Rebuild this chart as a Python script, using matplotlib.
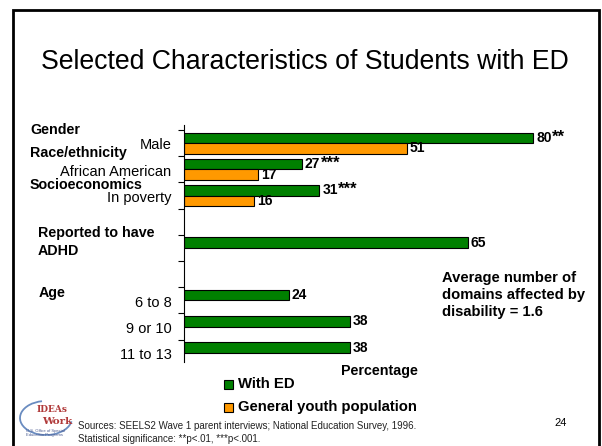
import numpy as np
import matplotlib.pyplot as plt
from matplotlib.patches import Rectangle, Arc

plt.rcParams['font.family'] = ['Liberation Sans', 'DejaVu Sans']

# rows from top to bottom; None marks an empty spacer row
rows = ["Male", "African American", "In poverty", None, "", None,
        "6 to 8", "9 or 10", "11 to 13"]
with_ed = [80, 27, 31, None, 65, None, 24, 38, 38]
general = [51, 17, 16, None, None, None, None, None, None]
stars = ["**", "***", "***", "", "", "", "", "", ""]

groups = ["Gender", "Race/ethnicity", "Socioeconomics",
          "Reported to have\nADHD", "Age"]

GREEN = "#008000"
ORANGE = "#FF9900"

W, H = 602, 446
fig = plt.figure(figsize=(W / 100, H / 100), dpi=100)


def fx(x):
    return x / W


def fy(y):
    return 1 - y / H


# slide frame
fig.patches.append(Rectangle((fx(13), fy(460)), fx(599) - fx(13), fy(10) - fy(460),
                             transform=fig.transFigure, fill=False,
                             edgecolor="black", linewidth=2))

fig.text(fx(305), fy(62), "Selected Characteristics of Students with ED",
         ha="center", va="center", fontsize=19.2)

ax = fig.add_axes([fx(184), fy(362), fx(577) - fx(184), fy(125) - fy(362)])
n = len(rows)
pos = np.arange(n)

for i in range(n):
    if with_ed[i] is not None:
        ax.barh(i - 0.2, with_ed[i], height=0.4, color=GREEN,
                edgecolor="black", linewidth=0.8)
        ax.text(with_ed[i] + 0.7, i - 0.2, str(with_ed[i]), ha="left",
                va="center", fontsize=10, fontweight="bold")
        if stars[i]:
            ax.annotate(stars[i], (with_ed[i] + 0.7, i - 0.2),
                        xytext=(11.2, 0.5), textcoords="offset points",
                        ha="left", va="center", fontsize=12, fontweight="bold")
    if general[i] is not None:
        ax.barh(i + 0.2, general[i], height=0.4, color=ORANGE,
                edgecolor="black", linewidth=0.8)
        ax.text(general[i] + 0.7, i + 0.2, str(general[i]), ha="left",
                va="center", fontsize=10, fontweight="bold")

ax.set_xlim(0, 90)
ax.set_ylim(n - 0.65, -0.69)
ax.set_yticks(pos - 0.5)
ax.set_yticklabels([])
ax.set_yticks(pos + 0.03, minor=True)
ax.set_yticklabels([r if r else "" for r in rows], minor=True, fontsize=10.5)
ax.tick_params(axis="y", which="major", length=4, width=0.8, direction="out")
ax.tick_params(axis="y", which="minor", length=0, pad=9)
ax.set_xticks([])
for s in ["top", "right", "bottom"]:
    ax.spines[s].set_visible(False)
ax.spines["left"].set_linewidth(0.8)

# group headings on the left
bold = dict(ha="left", va="center", fontsize=10.3, fontweight="bold")
fig.text(fx(30), fy(130), groups[0], **bold)
fig.text(fx(30), fy(153), groups[1], **bold)
fig.text(fx(30), fy(185), groups[2], **bold)
fig.text(fx(38), fy(242), groups[3], linespacing=1.35, **bold)
fig.text(fx(39), fy(293), groups[4], **bold)

fig.text(fx(442), fy(295), "Average number of\ndomains affected by\ndisability = 1.6",
         ha="left", va="center", fontsize=10.6, fontweight="bold", linespacing=1.25)

fig.text(fx(379), fy(371), "Percentage", ha="center", va="center",
         fontsize=10.3, fontweight="bold")

# legend
leg = [("With ED", GREEN), ("General youth population", ORANGE)]
for k, (name, col) in enumerate(leg):
    yc = 384 + 23 * k
    fig.patches.append(Rectangle((fx(224), fy(yc + 4.5)), fx(9), 9 / H,
                                 transform=fig.transFigure, facecolor=col,
                                 edgecolor="black", linewidth=0.8))
    fig.text(fx(238), fy(yc), name, ha="left", va="center", fontsize=10.7,
             fontweight="bold")

fig.text(fx(78), fy(426), "Sources: SEELS2 Wave 1 parent interviews; National Education Survey, 1996.",
         ha="left", va="center", fontsize=7, color="#222222")
fig.text(fx(78), fy(439), "Statistical significance: **p<.01, ***p<.001.",
         ha="left", va="center", fontsize=7, color="#222222")
fig.text(fx(561), fy(423), "24", ha="center", va="center", fontsize=8)

# small programme logo
fig.patches.append(Arc((fx(46), fy(418)), fx(52), 34 / H, angle=0, theta1=100, theta2=350,
                       transform=fig.transFigure, color="#6a8cc0", linewidth=1.3))
fig.text(fx(52), fy(410), "IDEAs", ha="center", va="center", fontsize=6.5,
         family="serif", color="#b03a3a", fontweight="bold")
fig.text(fx(57), fy(421), "Work", ha="center", va="center", fontsize=7.5,
         family="serif", color="#b03a3a", fontweight="bold")
fig.text(fx(45), fy(433), "U.S. Office of Special\nEducation Programs", ha="center",
         va="center", fontsize=3, color="#4a5a90", linespacing=1.1)

fig.savefig("out.png", dpi=100)
